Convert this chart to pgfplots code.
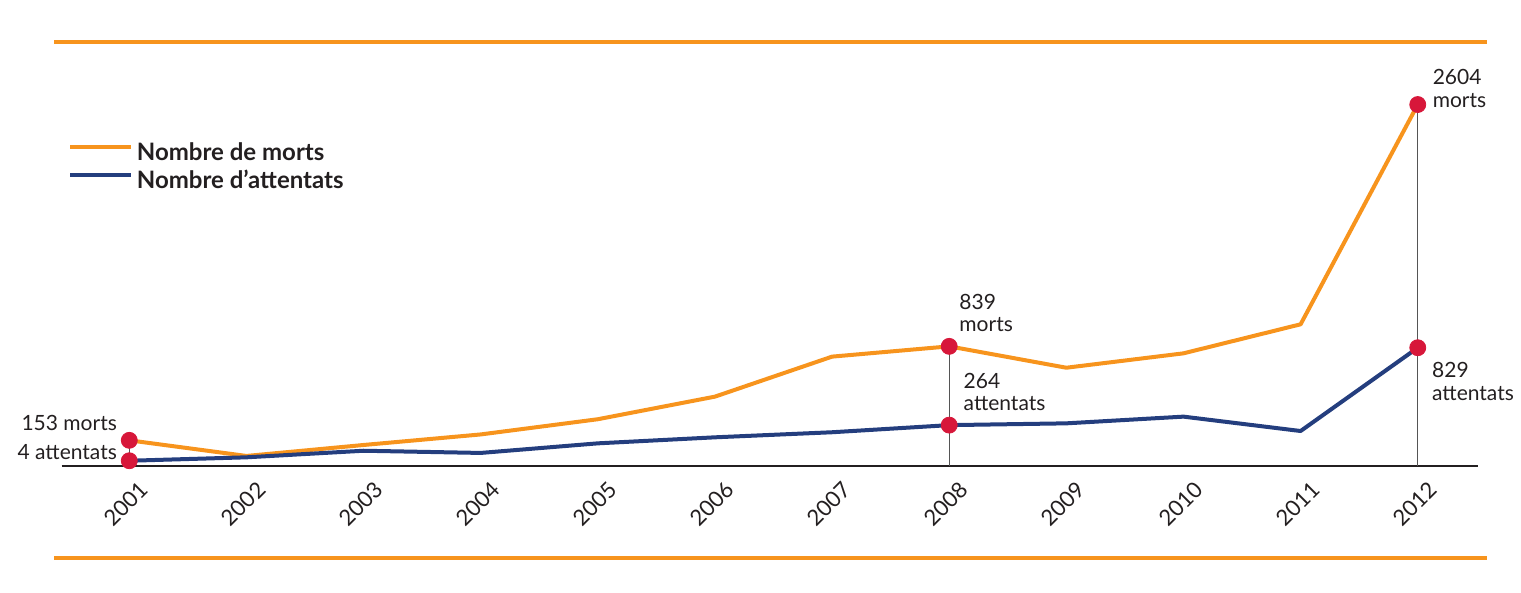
\documentclass[border=0pt]{standalone}
\usepackage{fontspec}
\setmainfont{Lato}
\usepackage{pgfplots}
\usepackage{pgfplotstable}
\pgfplotsset{compat=1.18}
\definecolor{cOrange}{HTML}{F7941D}
\definecolor{cNavy}{HTML}{243E7E}
\definecolor{cRed}{HTML}{D7173A}
\definecolor{cText}{HTML}{231F20}
\definecolor{cGrey}{HTML}{555555}

\pgfplotstableread{
x morts attentats
0 153 4
1 39 29
2 119 77
3 196 61
4 307 131
5 472 175
6 764 212
7 839 264
8 683 277
9 788 326
10 1000 221
11 2604 829
}\datatable

\begin{document}
\begin{tikzpicture}[font=\fontsize{10.5}{12}\selectfont, text=cText]
\useasboundingbox (0,0) rectangle (760.5pt,296.5pt);
\draw[cOrange, line width=2pt] (27pt,275.65pt) -- (743.35pt,275.65pt);
\draw[cOrange, line width=2pt] (27pt,17.65pt) -- (743.35pt,17.65pt);
\begin{axis}[
  at={(30.85pt,63.5pt)}, anchor=south west,
  scale only axis, width=708.3pt, height=212pt,
  xmin=-0.577, xmax=11.517, ymin=-34.3, ymax=3060.6,
  axis x line=bottom, axis y line=none,
  axis line style={-, draw=cText, line width=0.6pt},
  xtick={0,1,2,3,4,5,6,7,8,9,10,11},
  xticklabels={2001,2002,2003,2004,2005,2006,2007,2008,2009,2010,2011,2012},
  xtick style={draw=none},
  ytick=\empty,
  xticklabel style={xshift=-1.5pt, yshift=-16.6pt, rotate=45, anchor=center, inner sep=0pt, font=\fontsize{11}{13}\selectfont, text=cText},
  clip=false,
  legend cell align=left,
  legend style={at={(axis description cs:0.00466,0.762)}, anchor=north west, draw=none, fill=none, inner sep=0pt, outer sep=0pt,
    font=\bfseries\fontsize{12}{14}\selectfont, text=cText, row sep=1.8pt,
    nodes={inner sep=0pt, text height=9pt, text depth=3pt},
    /tikz/every odd column/.style={column sep=1.8pt}},
  legend image code/.code={\draw[#1] (0pt,3.85pt) -- (30.5pt,3.85pt);},
]
\addplot[cGrey, line width=0.5pt, forget plot] coordinates {(0,153) (0,4)};
\addplot[cGrey, line width=0.5pt, forget plot] coordinates {(7,839) (7,-34.3)};
\addplot[cGrey, line width=0.5pt, forget plot] coordinates {(11,2604) (11,-34.3)};
\addplot[cOrange, line width=2pt, line join=round, mark=none] table[x=x,y=morts] \datatable;
\addlegendentry{Nombre de morts}
\addplot[cNavy, line width=2pt, line join=round, mark=none] table[x=x,y=attentats] \datatable;
\addlegendentry{Nombre d’attentats}
\addplot[only marks, mark=*, mark size=4pt, draw=cRed, fill=cRed, forget plot] coordinates {(0,153) (0,4) (7,839) (7,264) (11,2604) (11,829)};

\begin{scope}[every node/.style={inner sep=0pt}]
\node[anchor=base east, xshift=-6pt, yshift=5.15pt] at (axis cs:0,153) {153 morts};
\node[anchor=base east, xshift=-6pt, yshift=0.75pt] at (axis cs:0,4) {4 attentats};
\node[anchor=base west, xshift=4.9pt, yshift=18.65pt] at (axis cs:7,839) {839};
\node[anchor=base west, xshift=4.9pt, yshift=7.3pt] at (axis cs:7,839) {morts};
\node[anchor=base west, xshift=7.05pt, yshift=18.4pt] at (axis cs:7,264) {264};
\node[anchor=base west, xshift=7.05pt, yshift=7.55pt] at (axis cs:7,264) {attentats};
\node[anchor=base west, xshift=7.3pt, yshift=9.8pt] at (axis cs:11,2604) {2604};
\node[anchor=base west, xshift=7.3pt, yshift=-1.35pt] at (axis cs:11,2604) {morts};
\node[anchor=base west, xshift=7pt, yshift=-15pt] at (axis cs:11,829) {829};
\node[anchor=base west, xshift=7pt, yshift=-26.15pt] at (axis cs:11,829) {attentats};
\end{scope}
\end{axis}
\end{tikzpicture}
\end{document}
